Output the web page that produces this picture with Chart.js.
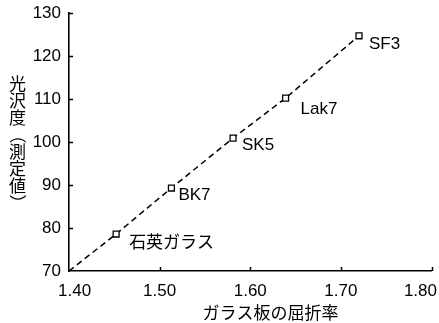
<!DOCTYPE html>
<html><head><meta charset="utf-8">
<script src="https://cdn.jsdelivr.net/npm/chart.js@4"></script>
<style>html,body{margin:0;padding:0;background:#fff}canvas{display:block}</style>
</head><body>
<canvas id="c" width="439" height="323"></canvas>
<script>
// Gloss (measured) vs. refractive index of glass plates
const glassNames = ['石英ガラス', 'BK7', 'SK5', 'Lak7', 'SF3'];
const refractiveIndex = [1.452, 1.513, 1.581, 1.639, 1.720];
const glossValues = [78.6, 89.3, 100.9, 110.2, 124.7];
const trendStartX = 1.40;
const trendStartY = 70;
const xTickValues = [1.40, 1.50, 1.60, 1.70, 1.80];
const yTickValues = [70, 80, 90, 100, 110, 120, 130];
const xAxisTitle = 'ガラス板の屈折率';
// vertical title; parentheses are turned a quarter turn when drawn
const yAxisTitleChars = ['光', '沢', '度', '（', '測', '定', '値', '）'];

// label placement relative to each marker (px)
const labelOffsets = [[13, 9], [7, 7], [9, 7], [15, 11], [10, 9]];

const LATIN = "'Liberation Sans', Arial, sans-serif";
const CJK = "'Noto Sans CJK JP', sans-serif";
const MIXED = "'Liberation Sans', 'Noto Sans CJK JP', sans-serif";

const points = refractiveIndex.map((x, i) => ({ x, y: glossValues[i] }));
const lineData = [{ x: trendStartX, y: trendStartY }, ...points];

const decorations = {
  id: 'decorations',
  afterDraw(chart) {
    const { ctx, chartArea: a, scales: { x, y } } = chart;
    ctx.save();
    // inward tick marks
    ctx.strokeStyle = '#000';
    ctx.lineWidth = 1.5;
    ctx.beginPath();
    yTickValues.forEach(v => {
      if (v === y.min) return;
      const py = Math.round(y.getPixelForValue(v)) + 0.5;
      ctx.moveTo(a.left, py);
      ctx.lineTo(a.left + 4, py);
    });
    xTickValues.forEach(v => {
      if (v === x.min) return;
      const px = Math.round(x.getPixelForValue(v)) + 0.5;
      ctx.moveTo(px, a.bottom);
      ctx.lineTo(px, a.bottom - 4);
    });
    ctx.stroke();

    // x tick labels, kept inside the figure at the ends
    ctx.fillStyle = '#000';
    ctx.font = '17px ' + LATIN;
    ctx.textAlign = 'center';
    ctx.textBaseline = 'middle';
    xTickValues.forEach(v => {
      const t = v.toFixed(2);
      const w = ctx.measureText(t).width;
      let cx = x.getPixelForValue(v);
      cx = Math.max(cx, 58 + w / 2);
      cx = Math.min(cx, chart.width - 2 - w / 2);
      ctx.fillText(t, cx, a.bottom + 20);
    });

    // axis titles
    ctx.font = '17px ' + CJK;
    ctx.fillText(xAxisTitle, 270.5, a.bottom + 42);
    yAxisTitleChars.forEach((ch, i) => {
      const cy = 84 + i * 17;
      if (ch === '（' || ch === '）') {
        ctx.save();
        ctx.translate(17.5, cy);
        ctx.rotate(Math.PI / 2);
        ctx.fillText(ch, 0, 0);
        ctx.restore();
      } else {
        ctx.fillText(ch, 17.5, cy);
      }
    });

    // glass name labels
    ctx.font = '17px ' + MIXED;
    ctx.textAlign = 'left';
    const meta = chart.getDatasetMeta(0);
    glassNames.forEach((name, i) => {
      const el = meta.data[i + 1];
      ctx.fillText(name, el.x + labelOffsets[i][0], el.y + labelOffsets[i][1]);
    });
    ctx.restore();
  }
};

new Chart(document.getElementById('c'), {
  type: 'scatter',
  data: {
    datasets: [{
      data: lineData,
      showLine: true,
      borderColor: '#000',
      borderWidth: 1.5,
      borderDash: [6, 4],
      pointStyle: 'rect',
      pointRadius: lineData.map((p, i) => (i === 0 ? 0 : 4.2)),
      pointBorderWidth: 1.3,
      pointBorderColor: '#000',
      pointBackgroundColor: '#fff',
      clip: false
    }]
  },
  options: {
    responsive: false,
    animation: false,
    events: [],
    layout: { padding: { top: 13, right: 7.5, left: 0, bottom: 0 } },
    plugins: { legend: { display: false }, tooltip: { enabled: false } },
    scales: {
      x: {
        type: 'linear',
        min: 1.40,
        max: 1.80,
        afterBuildTicks: s => { s.ticks = xTickValues.map(v => ({ value: v })); },
        afterFit: s => { s.height = 52; s.paddingLeft = 0; s.paddingRight = 0; },
        ticks: { display: false },
        grid: { display: false, drawTicks: false },
        border: { display: true, color: '#000', width: 1.6 }
      },
      y: {
        type: 'linear',
        min: 70,
        max: 130,
        afterBuildTicks: s => { s.ticks = yTickValues.map(v => ({ value: v })); },
        afterFit: s => { s.width = 69; s.paddingTop = 0; s.paddingBottom = 0; },
        ticks: { color: '#000', font: { family: LATIN, size: 17 }, padding: 8 },
        grid: { display: false, drawTicks: false },
        border: { display: true, color: '#000', width: 1.6 }
      }
    }
  },
  plugins: [decorations]
});
</script>
</body></html>
